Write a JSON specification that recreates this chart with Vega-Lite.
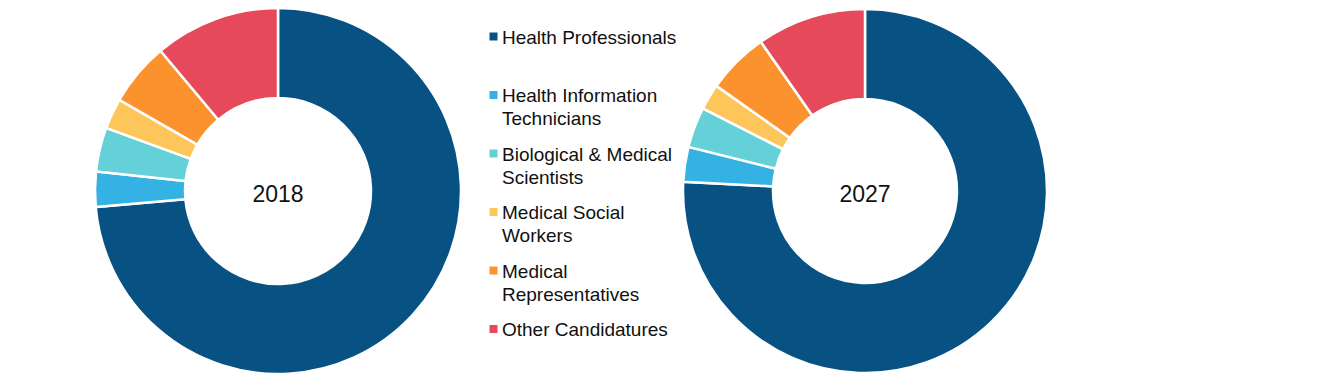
{
  "$schema": "https://vega.github.io/schema/vega-lite/v6.json",
  "padding": 0,
  "background": "white",
  "config": {
    "view": {"stroke": null},
    "concat": {"spacing": 0},
    "style": {"guide-label": {"lineHeight": 23, "dy": -8}}
  },
  "data": {"values": [
    {"year": "2018", "segment": "Health Professionals", "share": 73.6, "rank": 1},
    {"year": "2018", "segment": "Health Information Technicians", "share": 3.1, "rank": 2},
    {"year": "2018", "segment": "Biological & Medical Scientists", "share": 3.9, "rank": 3},
    {"year": "2018", "segment": "Medical Social Workers", "share": 2.7, "rank": 4},
    {"year": "2018", "segment": "Medical Representatives", "share": 5.6, "rank": 5},
    {"year": "2018", "segment": "Other Candidatures", "share": 11.1, "rank": 6},
    {"year": "2027", "segment": "Health Professionals", "share": 75.8, "rank": 1},
    {"year": "2027", "segment": "Health Information Technicians", "share": 3.1, "rank": 2},
    {"year": "2027", "segment": "Biological & Medical Scientists", "share": 3.6, "rank": 3},
    {"year": "2027", "segment": "Medical Social Workers", "share": 2.3, "rank": 4},
    {"year": "2027", "segment": "Medical Representatives", "share": 5.5, "rank": 5},
    {"year": "2027", "segment": "Other Candidatures", "share": 9.7, "rank": 6}
  ]},
  "hconcat": [
    {
      "width": 556,
      "height": 382,
      "transform": [{"filter": "datum.year == '2018'"}],
      "layer": [
        {
          "mark": {"type": "arc", "innerRadius": 93, "outerRadius": 183, "stroke": "white", "strokeWidth": 2.5},
          "encoding": {
            "theta": {"field": "share", "type": "quantitative", "stack": true},
            "order": {"field": "rank", "type": "quantitative"},
            "color": {
              "field": "segment", "type": "nominal",
              "scale": {
                "domain": ["Health Professionals", "Health Information Technicians", "Biological & Medical Scientists", "Medical Social Workers", "Medical Representatives", "Other Candidatures"],
                "range": ["#075283", "#35B2E4", "#64D0D8", "#FEC55B", "#FB922E", "#E5495A"]
              },
              "legend": {
                "title": null,
                "orient": "none",
                "legendX": 484,
                "legendY": 27,
                "symbolType": "square",
                "symbolSize": 64,
                "symbolStrokeWidth": 0,
                "labelFont": "Liberation Sans",
                "labelFontSize": 19,
                "labelColor": "#111111",
                "labelOffset": -1,
                "labelLimit": 400,
                "labelBaseline": "top",
                "gridAlign": "all",
                "rowPadding": 14.5,
                "labelExpr": "datum.label == 'Health Information Technicians' ? ['Health Information', 'Technicians'] : datum.label == 'Biological & Medical Scientists' ? ['Biological & Medical', 'Scientists'] : datum.label == 'Medical Social Workers' ? ['Medical Social', 'Workers'] : datum.label == 'Medical Representatives' ? ['Medical', 'Representatives'] : datum.label"
              }
            }
          }
        },
        {
          "transform": [{"filter": "datum.rank == 1"}],
          "mark": {"type": "text", "font": "Liberation Sans", "fontSize": 23, "color": "#111111", "baseline": "middle", "dy": 4},
          "encoding": {"text": {"field": "year", "type": "nominal"}}
        }
      ]
    },
    {
      "width": 618,
      "height": 382,
      "transform": [{"filter": "datum.year == '2027'"}],
      "layer": [
        {
          "mark": {"type": "arc", "innerRadius": 92, "outerRadius": 182, "stroke": "white", "strokeWidth": 2.5},
          "encoding": {
            "theta": {"field": "share", "type": "quantitative", "stack": true},
            "order": {"field": "rank", "type": "quantitative"},
            "color": {"field": "segment", "type": "nominal"}
          }
        },
        {
          "transform": [{"filter": "datum.rank == 1"}],
          "mark": {"type": "text", "font": "Liberation Sans", "fontSize": 23, "color": "#111111", "baseline": "middle", "dy": 4},
          "encoding": {"text": {"field": "year", "type": "nominal"}}
        }
      ]
    }
  ]
}
